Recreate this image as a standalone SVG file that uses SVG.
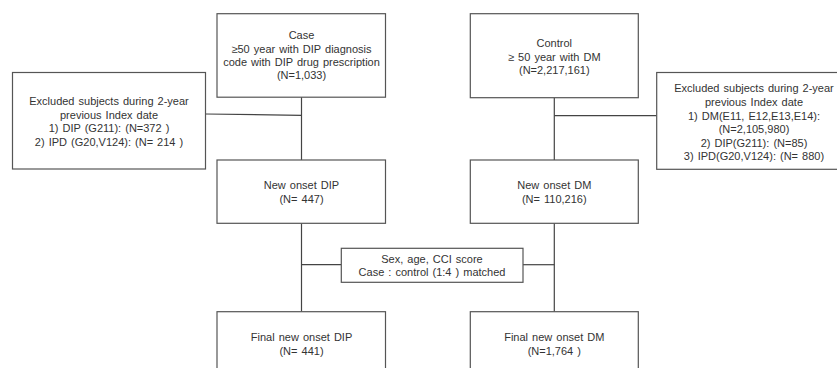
<svg xmlns="http://www.w3.org/2000/svg" width="837" height="368" viewBox="0 0 837 368">
<style>
.box{fill:#fff;stroke:#555;stroke-width:1.2}
.ln{fill:none;stroke:#444;stroke-width:1.2}
text{font-family:"Liberation Sans",Arial,sans-serif;font-size:11px;fill:#333;text-anchor:middle;word-spacing:1px}
</style>
<rect width="837" height="368" fill="#fff"/>
<g id="connectors">
<line class="ln" x1="301.5" y1="97" x2="301.5" y2="160"/>
<line class="ln" x1="205.5" y1="114" x2="301.5" y2="115.3"/>
<line class="ln" x1="554.3" y1="97.7" x2="554.3" y2="160"/>
<line class="ln" x1="554.3" y1="115.7" x2="656.7" y2="115.7"/>
<line class="ln" x1="301.5" y1="223.3" x2="301.5" y2="311.7"/>
<line class="ln" x1="554.3" y1="223.3" x2="554.3" y2="311.7"/>
<line class="ln" x1="301.5" y1="264.7" x2="341.3" y2="264.7"/>
<line class="ln" x1="523" y1="264.7" x2="554.3" y2="264.7"/>
</g>
<g id="case">
<rect class="box" x="217" y="13.7" width="168.5" height="83.5"/>
<text x="301.5" y="39">Case</text>
<text x="301.5" y="53">≥50 year with DIP diagnosis</text>
<text x="301.5" y="66">code with DIP drug prescription</text>
<text x="301.5" y="79">(N=1,033)</text>
</g>
<g id="excl-left">
<rect class="box" x="12.5" y="72.5" width="193" height="96.5"/>
<text x="109" y="105">Excluded subjects during 2-year</text>
<text x="109" y="118.5">previous Index date</text>
<text x="109" y="132">1) DIP (G211): (N=372 )</text>
<text x="109" y="145.5">2) IPD (G20,V124): (N= 214 )</text>
</g>
<g id="new-dip">
<rect class="box" x="217" y="160" width="168.5" height="63.3"/>
<text x="301.5" y="189">New onset DIP</text>
<text x="301.5" y="203">(N= 447)</text>
</g>
<g id="control">
<rect class="box" x="470.3" y="13.7" width="168" height="84"/>
<text x="554.3" y="46.5">Control</text>
<text x="554.3" y="60.5">≥ 50 year with DM</text>
<text x="554.3" y="74">(N=2,217,161)</text>
</g>
<g id="excl-right">
<rect class="box" x="656.7" y="72.5" width="190" height="96.8"/>
<text x="754" y="92">Excluded subjects during 2-year</text>
<text x="754" y="106">previous Index date</text>
<text x="754" y="119.5">1) DM(E11, E12,E13,E14):</text>
<text x="754" y="133">(N=2,105,980)</text>
<text x="754" y="146.5">2) DIP(G211): (N=85)</text>
<text x="754" y="159.5">3) IPD(G20,V124): (N= 880)</text>
</g>
<g id="new-dm">
<rect class="box" x="470.3" y="160" width="168" height="63.3"/>
<text x="554.3" y="189">New onset DM</text>
<text x="554.3" y="203">(N= 110,216)</text>
</g>
<g id="matching">
<rect class="box" x="341.3" y="248.3" width="181.7" height="34"/>
<text x="432" y="263">Sex, age, CCI score</text>
<text x="432" y="276">Case : control (1:4 ) matched</text>
</g>
<g id="final-dip">
<rect class="box" x="217" y="311.7" width="168.5" height="70"/>
<text x="301.5" y="341">Final new onset DIP</text>
<text x="301.5" y="355">(N= 441)</text>
</g>
<g id="final-dm">
<rect class="box" x="470.3" y="311.7" width="168" height="70"/>
<text x="554.3" y="341">Final new onset DM</text>
<text x="554.3" y="355">(N=1,764 )</text>
</g>
</svg>
